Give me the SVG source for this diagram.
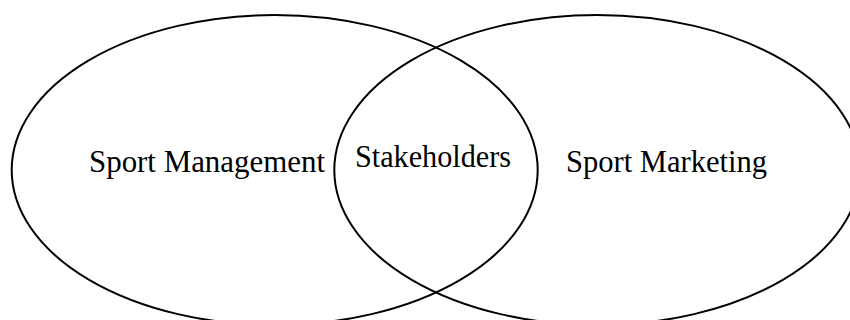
<svg xmlns="http://www.w3.org/2000/svg" width="850" height="320" viewBox="0 0 850 320">
  <style>
    .set { fill: none; stroke: #000; stroke-width: 2; }
    .label { font-family: "Liberation Serif", "Times New Roman", serif; font-size: 31px; fill: #000; }
  </style>
  <rect width="850" height="320" fill="#fff"/>
  <g id="sport-management">
    <ellipse class="set" cx="274.7" cy="170" rx="263" ry="155"/>
    <text class="label" x="89" y="172" textLength="236" lengthAdjust="spacingAndGlyphs">Sport Management</text>
  </g>
  <g id="sport-marketing">
    <ellipse class="set" cx="597.3" cy="170" rx="263" ry="155"/>
    <text class="label" x="566" y="172" textLength="201" lengthAdjust="spacingAndGlyphs">Sport Marketing</text>
  </g>
  <g id="stakeholders">
    <text class="label" x="355" y="167" textLength="156" lengthAdjust="spacingAndGlyphs">Stakeholders</text>
  </g>
  <g id="connectors"/>
</svg>
